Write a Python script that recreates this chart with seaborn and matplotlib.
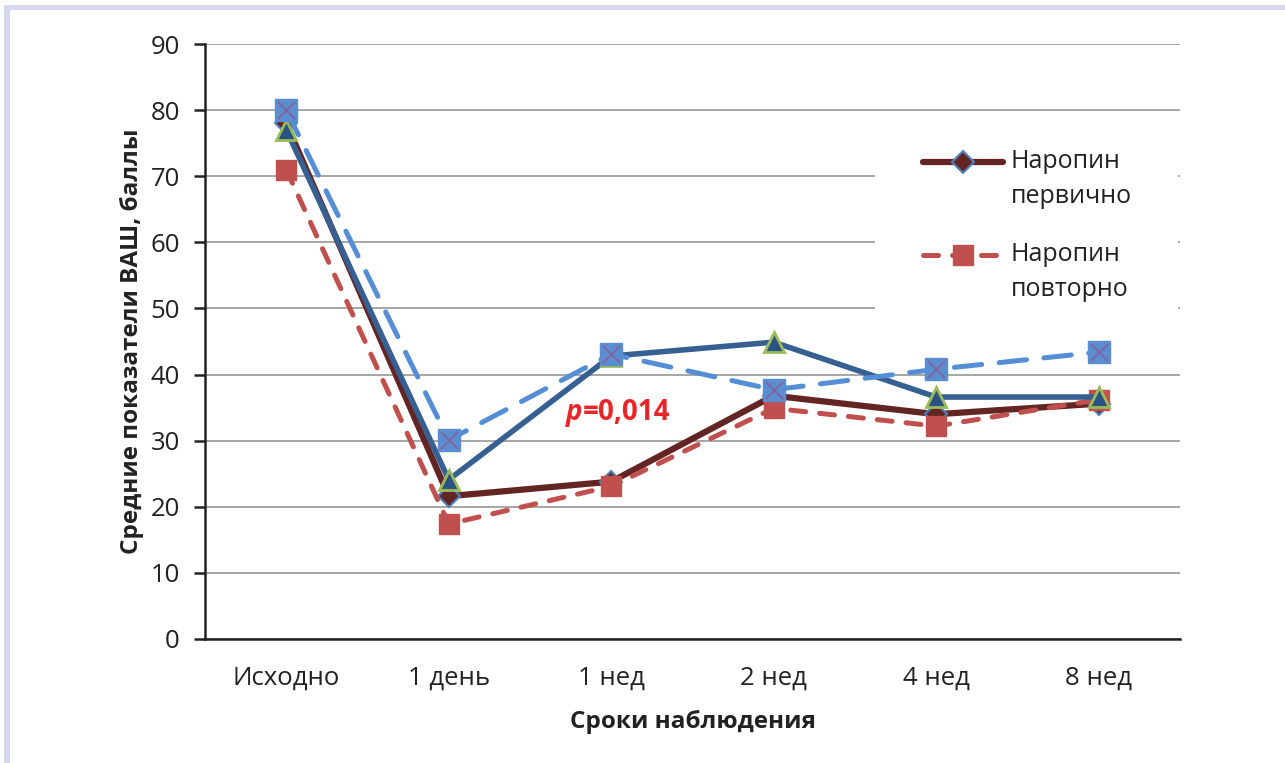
import numpy as np
import pandas as pd
import matplotlib
matplotlib.use("Agg")
import matplotlib.pyplot as plt
import seaborn as sns
from matplotlib.patches import Rectangle
from matplotlib.offsetbox import TextArea, HPacker, AnnotationBbox
from matplotlib.legend_handler import HandlerLine2D
from matplotlib.lines import Line2D

# ---------------- data ----------------
categories = ["Исходно", "1 день", "1 нед", "2 нед", "4 нед", "8 нед"]
naropin_primary = [78.0, 21.6, 23.8, 36.8, 34.0, 35.6]
naropin_repeat = [71.0, 17.4, 23.1, 34.9, 32.2, 36.2]
series3 = [77.0, 24.1, 42.8, 44.9, 36.6, 36.6]
series4 = [80.0, 30.1, 43.1, 37.7, 40.8, 43.4]
legend_labels = ["Наропин\nпервично", "Наропин\nповторно"]
yticks = list(range(0, 91, 10))
p_label = ("p", "=0,014")
x_title = "Сроки наблюдения"
y_title = "Средние показатели ВАШ, баллы"

sns.set_theme(style="white")
plt.rcParams["font.family"] = ["Open Sans", "DejaVu Sans"]
TXT = "#222222"

df = pd.DataFrame({
    "period": categories * 4,
    "value": naropin_primary + naropin_repeat + series3 + series4,
    "series": ["s1"] * 6 + ["s2"] * 6 + ["s3"] * 6 + ["s4"] * 6,
})

W, H = 1285, 763
fig = plt.figure(figsize=(W / 100, H / 100), dpi=100)
fig.patch.set_facecolor("white")
fig.patches.append(Rectangle((4 / W, 0), 6 / W, 1 - 5 / H, transform=fig.transFigure,
                             facecolor="#D5D8EA", edgecolor="none", zorder=0))
fig.patches.append(Rectangle((4 / W, 1 - 10 / H), 1, 5 / H, transform=fig.transFigure,
                             facecolor="#D5D8EA", edgecolor="none", zorder=0))

ax = fig.add_axes([205 / W, 1 - 639 / H, 975 / W, 595 / H])

d1 = df[df.series == "s1"]
d2 = df[df.series == "s2"]
d3 = df[df.series == "s3"]
d4 = df[df.series == "s4"]

sns.lineplot(data=d1, x="period", y="value", ax=ax, sort=False, color="#632523",
             linewidth=4.5, marker="D", markersize=11, markerfacecolor="#632523",
             markeredgecolor="#4F81BD", markeredgewidth=1.5, label=legend_labels[0],
             solid_capstyle="round", zorder=3)
sns.lineplot(data=d2, x="period", y="value", ax=ax, sort=False, color="#C0504D",
             linewidth=3.6, linestyle=(0, (3.0, 2.8)), dash_capstyle="round",
             marker="s", markersize=15, markerfacecolor="#C0504D",
             markeredgecolor="#C0504D", markeredgewidth=1, label=legend_labels[1], zorder=4)
sns.lineplot(data=d3, x="period", y="value", ax=ax, sort=False, color="#376092",
             linewidth=4.0, marker="^", markersize=15, markerfacecolor="#2A5283",
             markeredgecolor="#9BBB59", markeredgewidth=2, label="_s3",
             solid_capstyle="round", zorder=5)
sns.lineplot(data=d4, x="period", y="value", ax=ax, sort=False, color="#558ED5",
             linewidth=3.6, linestyle=(0, (5.5, 3.5)), dash_capstyle="round",
             marker="s", markersize=16, markerfacecolor="#5B8ED0",
             markeredgecolor="#5B8ED0", markeredgewidth=1, label="_s4", zorder=6)
sns.scatterplot(data=d4, x="period", y="value", ax=ax, marker="x", s=150,
                color="#8064A2", linewidth=1.4, zorder=7, legend=False)

# axes
ax.set_xlim(-0.5, 5.5)
ax.set_ylim(0, 90)
ax.set_yticks(yticks)
ax.set_yticklabels([str(v) for v in yticks])
ax.set_xticks(np.arange(-0.5, 6.0, 1.0))
ax.set_xticklabels([""] * 7)
ax.set_xticks(range(len(categories)), labels=categories, minor=True)
ax.tick_params(axis="x", which="major", length=9, width=1.8, color="#222222", direction="out")
ax.tick_params(axis="x", which="minor", length=0, pad=19, labelsize=18.5, labelcolor=TXT)
ax.tick_params(axis="y", which="major", length=8, width=1.8, color="#222222",
               direction="out", pad=10, labelsize=18.5, labelcolor=TXT, left=True)
ax.yaxis.grid(True, color="#A6A6A6", linewidth=1.4)
ax.xaxis.grid(False)
ax.set_axisbelow(True)
for s in ["top", "right"]:
    ax.spines[s].set_visible(False)
for s in ["left", "bottom"]:
    ax.spines[s].set_color("#222222")
    ax.spines[s].set_linewidth(1.8)

ax.set_xlabel(x_title, fontsize=17.5, fontweight="bold", color=TXT, labelpad=14)
ax.set_ylabel(y_title, fontsize=17.5, fontweight="bold", color=TXT, labelpad=5)

# white legend area (hides the gridlines like the original)
ax.add_patch(Rectangle((0.687, 0.533), 0.311, 0.326, transform=ax.transAxes,
                       facecolor="white", edgecolor="none", zorder=1.5))


class ShiftedLineHandler(HandlerLine2D):
    """Line handle aligned with the first line of a two-line label."""

    def __init__(self, shift_pt, **kw):
        super().__init__(**kw)
        self.shift_pt = shift_pt

    def create_artists(self, legend, orig_handle, xdescent, ydescent, width, height,
                       fontsize, trans):
        return super().create_artists(legend, orig_handle, xdescent,
                                      ydescent - 2 * self.shift_pt, width, height,
                                      fontsize, trans)


handles, labels = ax.get_legend_handles_labels()
keep = [(h, l) for h, l in zip(handles, labels) if l in legend_labels]
leg = ax.legend([k[0] for k in keep], [k[1] for k in keep], loc="upper left",
                bbox_to_anchor=((923 - 205) / 975, (639 - 149) / 595), borderaxespad=0,
                frameon=False, fontsize=18, handlelength=3.2, handletextpad=0.3,
                labelspacing=1.3, borderpad=0,
                handler_map={Line2D: ShiftedLineHandler(13.2)})
for t in leg.get_texts():
    t.set_color(TXT)
    t.set_linespacing(1.55)
leg.set_zorder(10)

# p-value annotation
ta = TextArea(p_label[0], textprops=dict(color="#E8262A", fontsize=20,
                                          fontweight="bold", fontstyle="italic"))
tb = TextArea(p_label[1], textprops=dict(color="#E8262A", fontsize=20, fontweight="bold"))
box = HPacker(children=[ta, tb], align="baseline", pad=0, sep=0)
ab = AnnotationBbox(box, (1.72, 34.3), xycoords="data", box_alignment=(0, 0.5),
                    frameon=False, pad=0)
ax.add_artist(ab)

fig.savefig("out.png", dpi=100, facecolor="white")
